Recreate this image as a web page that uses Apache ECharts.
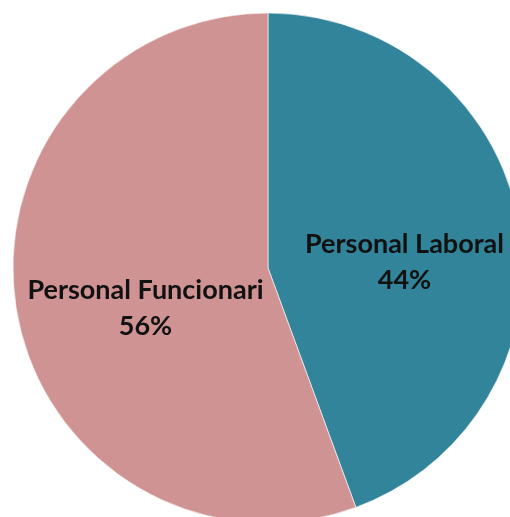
<!DOCTYPE html>
<html>
<head>
<meta charset="utf-8">
<script src="https://cdn.jsdelivr.net/npm/echarts@6/dist/echarts.min.js"></script>
<style>
html,body{margin:0;padding:0;background:#fff;}
#chart{width:510px;height:517px;}
</style>
</head>
<body>
<div id="chart"></div>
<script>
const categories = ['Personal Laboral', 'Personal Funcionari'];
const values = [44.4, 55.6];
const colors = ['#32849A', '#D09393'];

const chart = echarts.init(document.getElementById('chart'), null, {renderer: 'canvas'});
chart.setOption({
  animation: false,
  series: [{
    type: 'pie',
    center: [268, 268],
    radius: 255,
    startAngle: 90,
    clockwise: true,
    data: categories.map((c, i) => ({name: c, value: values[i], itemStyle: {color: colors[i]}})),
    itemStyle: {borderColor: 'rgba(255,255,255,0.6)', borderWidth: 1},
    label: {
      show: true,
      position: 'inside',
      formatter: p => p.name + '\n' + Math.round(p.percent) + '%',
      fontFamily: 'Lato',
      fontWeight: 'bold',
      fontSize: 27,
      lineHeight: 36,
      color: '#111',
      align: 'center'
    },
    labelLine: {show: false},
    labelLayout: function (params) {
      return {dy: 17, dx: params.dataIndex === 0 ? 8 : 6};
    },
    emphasis: {disabled: true}
  }]
});
</script>
</body>
</html>
